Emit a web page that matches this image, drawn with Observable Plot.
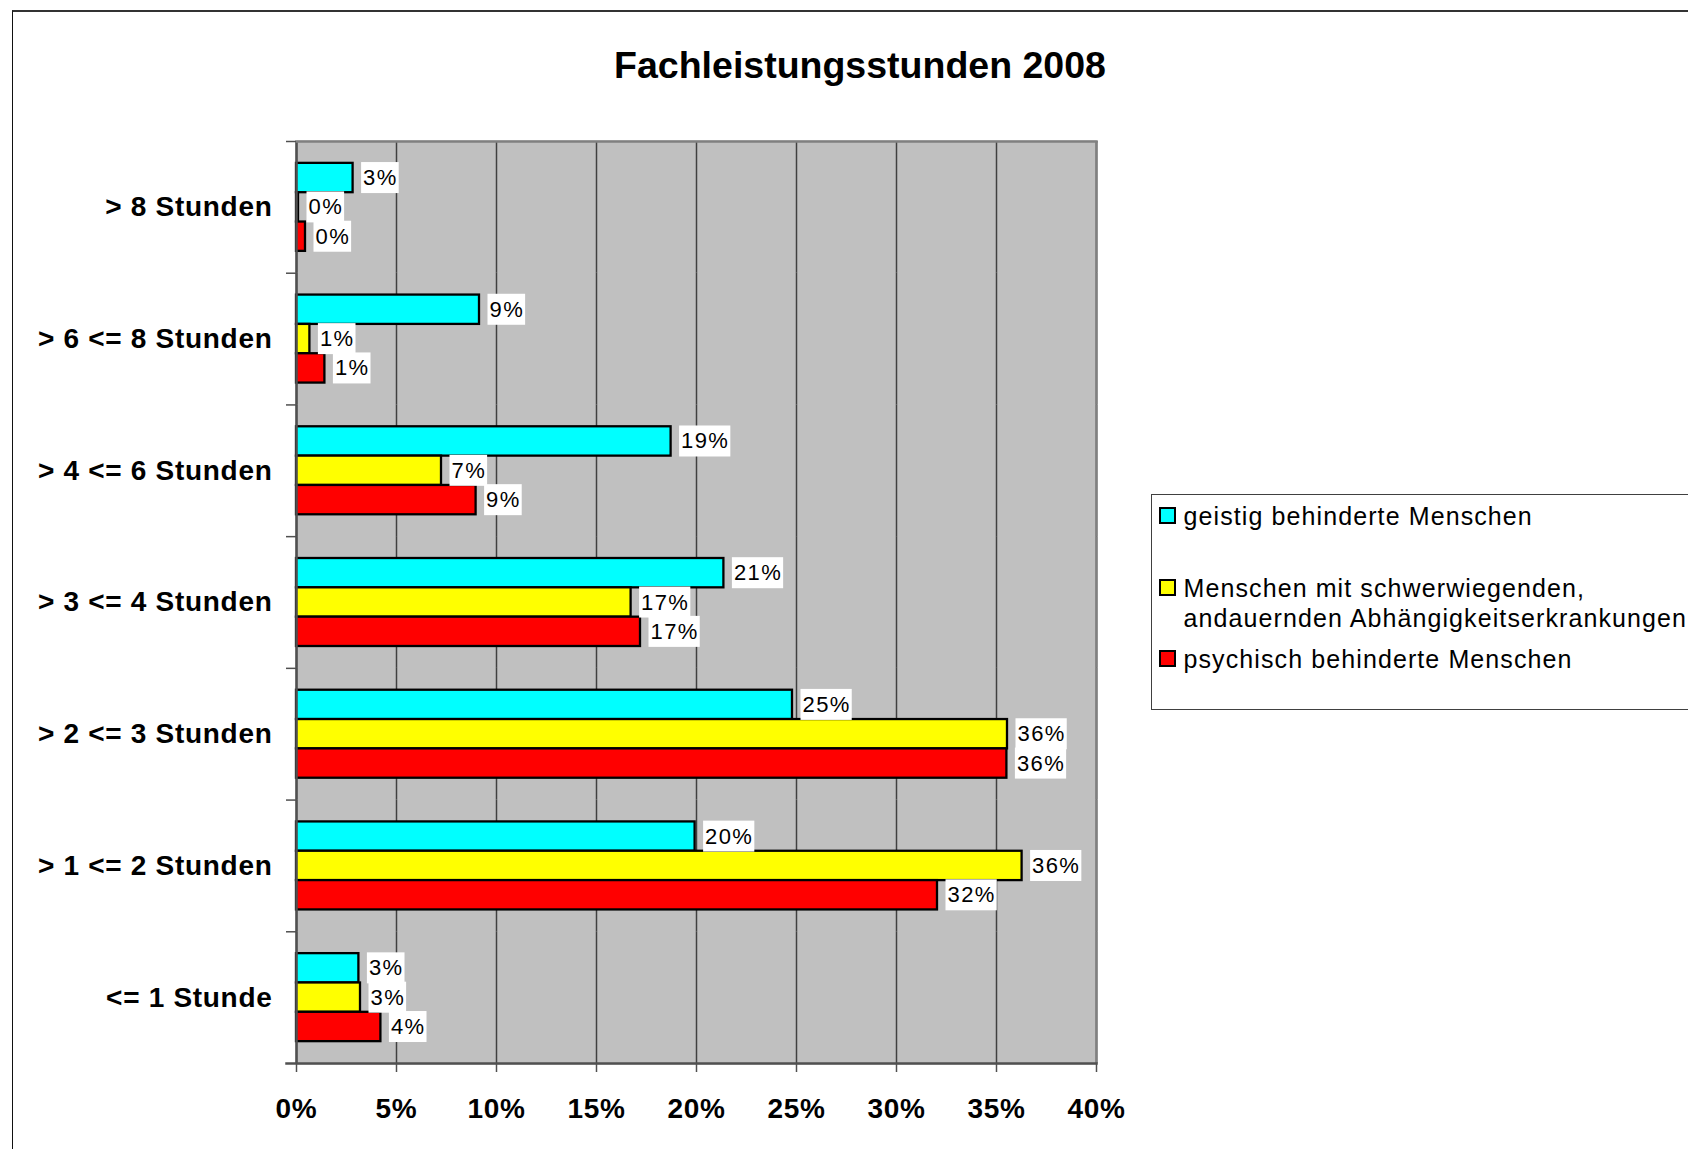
<!DOCTYPE html>
<html>
<head>
<meta charset="utf-8">
<script src="https://cdn.jsdelivr.net/npm/d3@7"></script>
<script src="https://cdn.jsdelivr.net/npm/@observablehq/plot@0.6"></script>
<style>
html, body { margin: 0; padding: 0; background: #fff; }
body { width: 1688px; height: 1149px; overflow: hidden; position: relative; font-family: "Liberation Sans", Arial, Helvetica, sans-serif; color: #000; }
#chart { position: absolute; left: 0; top: 0; }
#frame { position: absolute; left: 12px; top: 10px; width: 2000px; height: 2000px; border-left: 1.5px solid #111; border-top: 2px solid #333; pointer-events: none; }
#title { position: absolute; left: 0; width: 1720px; top: 46.5px; text-align: center; font-weight: bold; font-size: 37.5px; line-height: 37.5px; }
#legend { position: absolute; left: 1151px; top: 494px; width: 700px; height: 216px; border: 1.5px solid #404040; box-sizing: border-box; }
#legend .item { position: absolute; left: 31.5px; font-size: 25px; line-height: 30px; letter-spacing: 1.1px; white-space: pre; }
#legend .sw { position: absolute; left: -25px; top: 6px; width: 17px; height: 17px; border: 2px solid #000; box-sizing: border-box; }
g[aria-label="text"] text { letter-spacing: 1.4px; }
g[aria-label="x-axis tick label"] text, g[aria-label="fy-axis tick label"] text { font-weight: bold; letter-spacing: 0.7px; }
</style>
</head>
<body>
<div id="chart"></div>
<div id="title"></div>
<div id="legend"></div>
<div id="frame"></div>
<script>
// ---- data ----
const title = "Fachleistungsstunden 2008";
const categories = ["> 8 Stunden", "> 6 <= 8 Stunden", "> 4 <= 6 Stunden", "> 3 <= 4 Stunden", "> 2 <= 3 Stunden", "> 1 <= 2 Stunden", "<= 1 Stunde"];
const series = ["geistig behinderte Menschen", "Menschen mit schwerwiegenden, andauernden Abhängigkeitserkrankungen", "psychisch behinderte Menschen"];
const geistig   = [2.83, 9.15, 18.73, 21.37, 24.80, 19.93, 3.12];
const sucht     = [0.10, 0.67,  7.25, 16.73, 35.55, 36.28, 3.20];
const psychisch = [0.45, 1.42,  8.98, 17.20, 35.52, 32.05, 4.22];
const xTicks = [0, 5, 10, 15, 20, 25, 30, 35, 40];
const colors = ["#00ffff", "#ffff00", "#ff0000"];

// ---- layout ----
const W = 1688, H = 1149, mL = 296, mR = 592, mT = 141, mB = 86;
const step = (H - mT - mB) / categories.length;
const seriesValues = [geistig, sucht, psychisch];
const data = categories.flatMap((c, i) => series.map((s, j) => ({category: c, series: s, value: seriesValues[j][i]})));

const plot = Plot.plot({
  width: W, height: H,
  marginLeft: mL, marginRight: mR, marginTop: mT, marginBottom: mB,
  style: {fontFamily: '"Liberation Sans", Arial, Helvetica, sans-serif', background: "transparent", overflow: "visible", color: "#000"},
  x: {domain: [0, 40], axis: null},
  y: {domain: series, paddingInner: 0, paddingOuter: 0.745, round: false, axis: null},
  fy: {domain: categories, padding: 0, round: false, axis: null},
  color: {domain: series, range: colors},
  marks: [
    Plot.frame({fill: "#c0c0c0", insetTop: -1, insetBottom: -1}),
    Plot.gridX({ticks: xTicks, stroke: "#404040", strokeOpacity: 1, strokeWidth: 1.5}),
    Plot.barX(data, {x: "value", y: "series", fy: "category", fill: "series", stroke: "#000", strokeWidth: 2.3}),
    Plot.ruleX([40], {stroke: "#808080", strokeWidth: 2.5}),
    Plot.ruleX([0], {stroke: "#505050", strokeWidth: 2.5}),
    Plot.frame({anchor: "top", facetAnchor: "top", stroke: "#808080", strokeWidth: 2.5}),
    Plot.frame({anchor: "bottom", facetAnchor: "bottom", stroke: "#505050", strokeWidth: 2.5, insetLeft: -10}),
    Plot.axisX({ticks: xTicks, tickFormat: d => d + "%", tickSize: 9, tickPadding: 26, fontSize: 28, fontWeight: "bold", stroke: "#505050", strokeWidth: 1.5, label: null}),
    Plot.axisFy({anchor: "left", tickSize: 0, tickPadding: 24, fontSize: 28, fontWeight: "bold", label: null}),
    Plot.axisFy({anchor: "left", tickSize: 10, tickFormat: () => "", dy: -step / 2, stroke: "#505050", strokeWidth: 1.5, label: null}),
    Plot.text(data, {x: "value", y: "series", fy: "category", text: d => Math.round(d.value) + "%", textAnchor: "start", dx: 10, fontSize: 22, fill: "#000"})
  ]
});
document.getElementById("chart").append(plot);

// white boxes behind value labels
const ns = "http://www.w3.org/2000/svg";
plot.querySelectorAll('g[aria-label="text"] text').forEach(t => {
  const bb = t.getBBox();
  const r = document.createElementNS(ns, "rect");
  const cy = bb.y + bb.height / 2;
  r.setAttribute("x", bb.x - 2);
  r.setAttribute("y", cy - 15.5);
  r.setAttribute("width", bb.width + 3);
  r.setAttribute("height", 31);
  r.setAttribute("fill", "#fff");
  const tr = t.getAttribute("transform");
  if (tr) r.setAttribute("transform", tr);
  t.parentNode.insertBefore(r, t);
});

// title
document.getElementById("title").textContent = title;

// legend
const legendTops = [6, 78, 149];
const legend = document.getElementById("legend");
series.forEach((s, i) => {
  const item = document.createElement("div");
  item.className = "item";
  item.style.top = legendTops[i] + "px";
  item.textContent = s.replace(", ", ",\n");
  const sw = document.createElement("div");
  sw.className = "sw";
  sw.style.background = colors[i];
  item.prepend(sw);
  legend.append(item);
});
</script>
</body>
</html>
